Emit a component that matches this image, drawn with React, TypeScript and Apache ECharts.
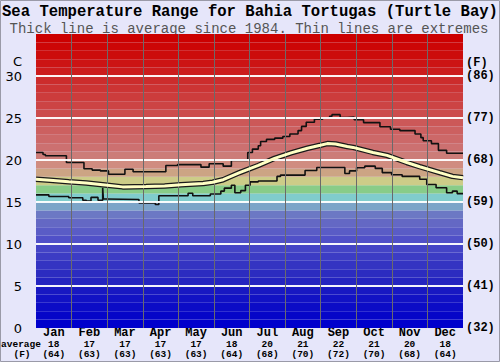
import React, { useEffect, useRef } from 'react';
import * as echarts from 'echarts';

const MONTHS = ['Jan', 'Feb', 'Mar', 'Apr', 'May', 'Jun', 'Jul', 'Aug', 'Sep', 'Oct', 'Nov', 'Dec'];
const AVG_C = [18, 17, 17, 17, 17, 18, 20, 21, 22, 21, 20, 18];
const AVG_F = [64, 63, 63, 63, 63, 64, 68, 70, 72, 70, 68, 64];

// [day of year, °C] – step segments (value holds from that day on)
const maxLine: [number, number][] = [
  [0, 20.9], [6, 20.65], [8, 20.5], [26, 19.7], [41, 18.95], [48, 18.8], [55, 18.7], [62, 18.3],
  [76, 18.9], [83, 18.6], [111, 19.35], [121, 19.45], [141, 19.15], [148, 19.55], [160, 19.27],
  [167, 19.95], [181, 20.9], [185, 21.3], [190, 21.7], [192, 22.2], [197, 22.45], [204, 22.6],
  [211, 22.8], [217, 23.1], [224, 23.5], [227, 24.0], [231, 24.5], [238, 24.85], [245, 25.0],
  [251, 25.2], [253, 25.4], [260, 25.05], [266, 25.1], [272, 24.8], [280, 24.45], [294, 23.95],
  [303, 23.66], [311, 23.5], [324, 23.1], [329, 22.66], [331, 22.3], [338, 21.95], [344, 21.15],
  [351, 20.8], [365, 20.8]
];

const minLine: [number, number][] = [
  [0, 15.85], [11, 15.65], [28, 15.5], [40, 15.2], [43, 15.1], [47, 15.55], [53, 15.2], [57, 16.7],
  [57.6, 15.35], [60, 15.3], [88, 14.9], [102, 14.7], [105, 15.75], [130, 16.05], [134, 15.75],
  [149, 15.95], [158, 16.3], [161, 16.65], [167, 17.0], [170, 16.1], [175, 16.35], [179, 17.0],
  [183, 17.4], [190, 17.5], [206, 18.05], [209, 18.2], [230, 18.75], [240, 19.1], [264, 18.4],
  [268, 18.7], [274, 19.08], [281, 19.27], [290, 19.0], [296, 18.5], [304, 18.25], [313, 18.05],
  [328, 17.7], [334, 17.08], [342, 16.7], [351, 16.1], [356, 16.3], [360, 16.0], [365, 16.0]
];

const avgLine: [number, number][] = [
  [0, 17.7], [12, 17.6], [28, 17.4], [43, 17.25], [57, 17.05], [74, 16.8], [94, 16.85], [110, 16.9],
  [124, 17.05], [143, 17.2], [151, 17.35], [160, 17.65], [174, 18.5], [190, 19.35], [204, 20.2],
  [218, 20.85], [232, 21.4], [243, 21.75], [249, 21.95], [256, 21.9], [266, 21.6], [271, 21.5],
  [288, 20.9], [300, 20.55], [317, 19.7], [328, 19.2], [345, 18.5], [356, 18.05], [365, 17.9]
];

// one colour per 1°C band, from 0 up to 35
const BAND_COLORS = [
  '#0000cc', '#0606c8', '#0c0cc6', '#1212c4', '#1818c2', '#2424c0', '#2c2cc0', '#3434c2', '#3c3cc4',
  '#4444c6', '#5050c8', '#5a5cc6', '#6468c4', '#6c78c4', '#7ca4c8', '#80cccc', '#88cc88', '#cccc88',
  '#cca484', '#d08c80', '#cc7c78', '#cc7070', '#cc6868', '#cc6060', '#cc5858', '#cc4c4c', '#cc4444',
  '#cc3c3c', '#cc3434', '#cc2c2c', '#cc1c1c', '#cc1414', '#cc0c0c', '#cc0606', '#cc0000'
];

const WHITE_LINES = [5, 10, 15, 20, 25, 30];

export default function App() {
  const ref = useRef<HTMLDivElement>(null);
  useEffect(() => {
    if (!ref.current) return;
    const chart = echarts.init(ref.current, null, { renderer: 'svg' });
    const mono = 'Liberation Mono, Courier New, monospace';
    const option: any = {
      animation: false,
      backgroundColor: '#e6e6fa',
      grid: { left: 36, right: 37, top: 34, bottom: 34, outerBoundsMode: 'none' },
      xAxis: [
        {
          type: 'category', data: MONTHS, boundaryGap: true,
          axisLine: { show: false }, axisTick: { show: false }, splitLine: { show: false },
          axisLabel: {
            interval: 0, margin: -1, hideOverlap: false,
            formatter: (v: string, i: number) => `{m|${v}}\n{v|${AVG_C[i]}}\n{v|(${AVG_F[i]})}`,
            rich: {
              m: { fontFamily: mono, fontWeight: 'bold', fontSize: 12, lineHeight: 12, color: '#000' },
              v: { fontFamily: mono, fontWeight: 'bold', fontSize: 9.5, lineHeight: 10, color: '#000' }
            }
          }
        },
        { type: 'value', min: 0, max: 365, show: false }
      ],
      yAxis: [
        {
          type: 'value', min: 0, max: 35, interval: 5, position: 'left',
          axisLine: { show: false }, axisTick: { show: false }, splitLine: { show: false },
          axisLabel: {
            margin: 14, formatter: (v: number) => (v === 35 ? '' : String(v)),
            fontFamily: 'DejaVu Sans', fontSize: 13, color: '#000'
          }
        },
        {
          type: 'value', min: 0, max: 35, interval: 5, position: 'right',
          axisLine: { show: false }, axisTick: { show: false }, splitLine: { show: false },
          axisLabel: {
            margin: 3, formatter: (v: number) => (v === 35 ? '' : `(${Math.round(v * 9 / 5 + 32)})`),
            fontFamily: mono, fontWeight: 'bold', fontSize: 12, color: '#000'
          }
        }
      ],
      graphic: [
        {
          type: 'rect', shape: { x: 0.5, y: 0.5, width: 499, height: 361 },
          style: { fill: 'none', stroke: '#9a9aa8', lineWidth: 1 }, z: 100
        },
        {
          type: 'text', x: 250, y: 12,
          style: {
            text: 'Sea Temperature Range for Bahia Tortugas (Turtle Bay)', fill: '#000',
            font: `bold 15.6px ${mono}`, textAlign: 'center', textVerticalAlign: 'middle'
          }
        },
        {
          type: 'text', x: 249, y: 28.5,
          style: {
            text: 'Thick line is average since 1984. Thin lines are extremes', fill: '#555',
            font: `14px ${mono}`, textAlign: 'center', textVerticalAlign: 'middle'
          }
        },
        {
          type: 'text', x: 22, y: 61,
          style: { text: 'C', fill: '#000', font: '13px DejaVu Sans', textAlign: 'right', textVerticalAlign: 'middle' }
        },
        {
          type: 'text', x: 466, y: 63,
          style: { text: '(F)', fill: '#000', font: `bold 12px ${mono}`, textAlign: 'left', textVerticalAlign: 'middle' }
        },
        {
          type: 'text', x: 21, y: 344,
          style: { text: 'average', fill: '#000', font: `bold 9.5px ${mono}`, textAlign: 'center', textVerticalAlign: 'middle' }
        },
        {
          type: 'text', x: 22, y: 354,
          style: { text: '(F)', fill: '#000', font: `bold 9.5px ${mono}`, textAlign: 'center', textVerticalAlign: 'middle' }
        }
      ],
      series: [
        {
          type: 'line', xAxisIndex: 1, yAxisIndex: 0, z: 1, data: [[0, 0]], symbol: 'none',
          lineStyle: { opacity: 0 }, silent: true,
          markArea: {
            silent: true,
            data: BAND_COLORS.map((c, i) => [
              { yAxis: i, itemStyle: { color: c, opacity: 1 } },
              { yAxis: i + 1 }
            ])
          }
        },
        {
          type: 'line', xAxisIndex: 1, yAxisIndex: 0, z: 2, data: [[0, 0]], symbol: 'none',
          lineStyle: { opacity: 0 }, silent: true,
          markLine: {
            silent: true, symbol: 'none', label: { show: false },
            data: [
              ...WHITE_LINES.map((v) => ({ yAxis: v, lineStyle: { color: '#ffffff', width: 2, type: 'solid', opacity: 0.95 } })),
              ...MONTHS.slice(1).map((_, k) => ({ xAxis: (365 * (k + 1)) / 12, lineStyle: { color: '#6a6a6a', width: 1, type: 'solid' } }))
            ]
          }
        },
        {
          name: 'max', type: 'line', xAxisIndex: 1, yAxisIndex: 0, z: 3, step: 'end', data: maxLine,
          symbol: 'none', lineStyle: { color: '#111', width: 1.6 }
        },
        {
          name: 'min', type: 'line', xAxisIndex: 1, yAxisIndex: 0, z: 3, step: 'end', data: minLine,
          symbol: 'none', lineStyle: { color: '#111', width: 1.6 }
        },
        {
          name: 'avgOutline', type: 'line', xAxisIndex: 1, yAxisIndex: 0, z: 4, data: avgLine,
          symbol: 'none', lineStyle: { color: '#1a1a1a', width: 5.5 }
        },
        {
          name: 'avg', type: 'line', xAxisIndex: 1, yAxisIndex: 0, z: 5, data: avgLine,
          symbol: 'none', lineStyle: { color: '#ffffc4', width: 3 }
        }
      ]
    };
    chart.setOption(option);
    return () => chart.dispose();
  }, []);
  return (
    <div
      ref={ref}
      style={{ position: 'fixed', left: 0, top: 0, width: 500, height: 362, background: '#e6e6fa' }}
    />
  );
}
